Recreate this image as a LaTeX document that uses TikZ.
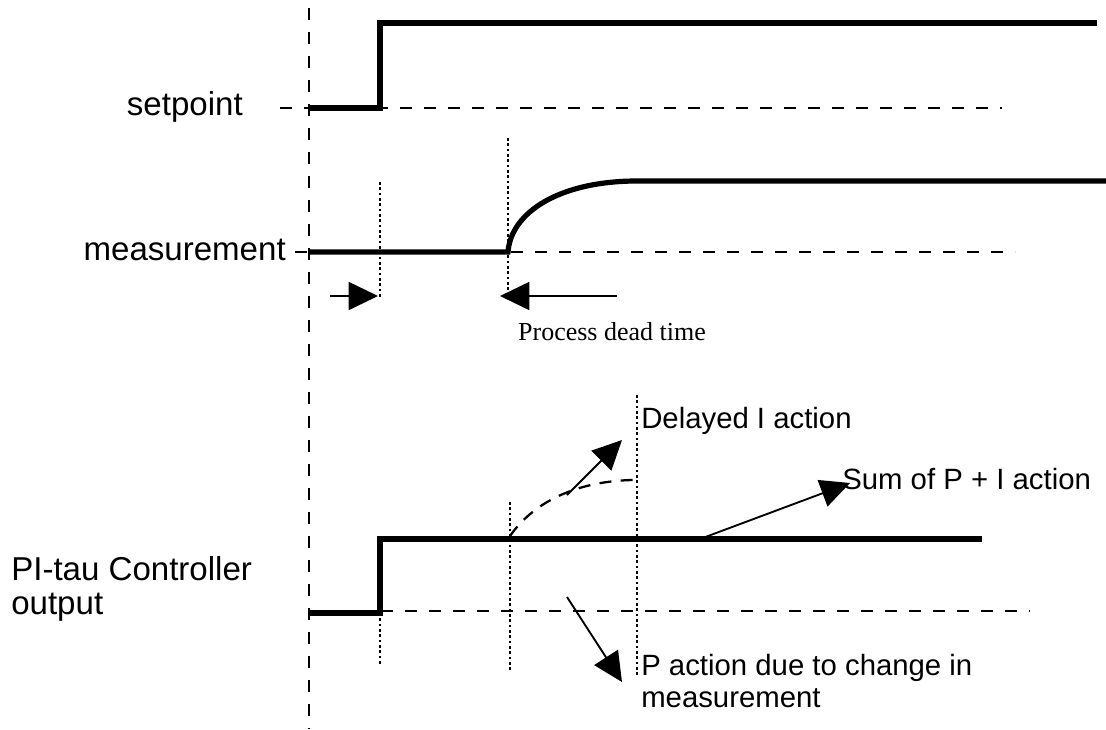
\documentclass[tikz,border=0pt]{standalone}
\usepackage{fontspec}
\setmainfont{Liberation Sans}
\newfontfamily\serifnote{Liberation Serif}
\usetikzlibrary{positioning,arrows.meta,calc}
\tikzset{
  sig/.style={line width=3.9pt},
  refline/.style={line width=1.9pt, dash pattern=on 9pt off 9pt},
  dotline/.style={line width=2pt, dash pattern=on 2pt off 2pt},
  ptr/.style={-{Triangle[length=22pt,width=21pt]}, line width=1.4pt},
  lbl/.style={inner sep=0pt, font=\fontsize{24.8}{26}\selectfont},
  note/.style={inner sep=0pt, align=left, font=\fontsize{22}{24}\selectfont}
}
\begin{document}
\begin{tikzpicture}[x=0.75pt,y=-0.75pt]
    \useasboundingbox (0,0) rectangle (1106,729);
    \node[lbl, anchor=east] (sp) at (243,107) {setpoint};
    \node[lbl, anchor=east] (meas) at (286,250) {measurement};
    \node[lbl, anchor=west, align=left, font=\fontsize{24.8}{25.5}\selectfont] (pi) at (11,589) {PI-tau Controller\\output};
    \node[inner sep=0pt, font=\serifnote\fontsize{19.5}{22}\selectfont] (dead) at (612,332) {Process dead time};
    \node[note, anchor=west] (delayed) at (641,421) {Delayed I action};
    \node[note, anchor=west] (sum) at (842,479) {Sum of P + I action};
    \node[note, anchor=north west] (paction) at (641,654) {P action due to change in\\measurement};
    \coordinate (t0) at (309,8);
    \coordinate (tend) at (309,729);
    \draw[refline] (t0) -- (tend);
    \draw[refline] (280,108) -- (1002,108);
    \draw[refline] (295,252) -- (1015,252);
    \draw[refline] (309,611) -- (1030,611);
    \draw[sig] (309,108) -- (380,108) -- (380,23) -- (1097,23);
    \draw[sig] (309,252) -- (508,252) .. controls (511,212) and (560,181) .. (637,181) -- (1106,181);
    \draw[sig] (309,613) -- (380,613) -- (380,539) -- (982,539);
    \draw[line width=1.7pt, dash pattern=on 9pt off 7pt] (510,536) .. controls (535,500) and (580,481) .. (633,480);
    \foreach \x/\a/\b in {380/182/298, 508/138/290, 380/613/665, 510/502/670, 637/395/676}{\draw[dotline] (\x,\a) -- (\x,\b);}
    \coordinate (ps) at (330,296);
    \coordinate (pe) at (378,296);
    \coordinate (ds) at (617,296);
    \coordinate (de) at (500,296);
    \draw[ptr] (ps) -- (pe);
    \draw[ptr] (ds) -- (de);
    \coordinate (ifrom) at (567,495);
    \coordinate (ito) at (622,440);
    \coordinate (sfrom) at (700,539);
    \coordinate (sto) at (850,483);
    \coordinate (pfrom) at (567,597);
    \coordinate (pto) at (622,682);
    \draw[ptr] (ifrom) -- (ito);
    \draw[ptr] (sfrom) -- (sto);
    \draw[ptr] (pfrom) -- (pto);
  \end{tikzpicture}
\end{document}
